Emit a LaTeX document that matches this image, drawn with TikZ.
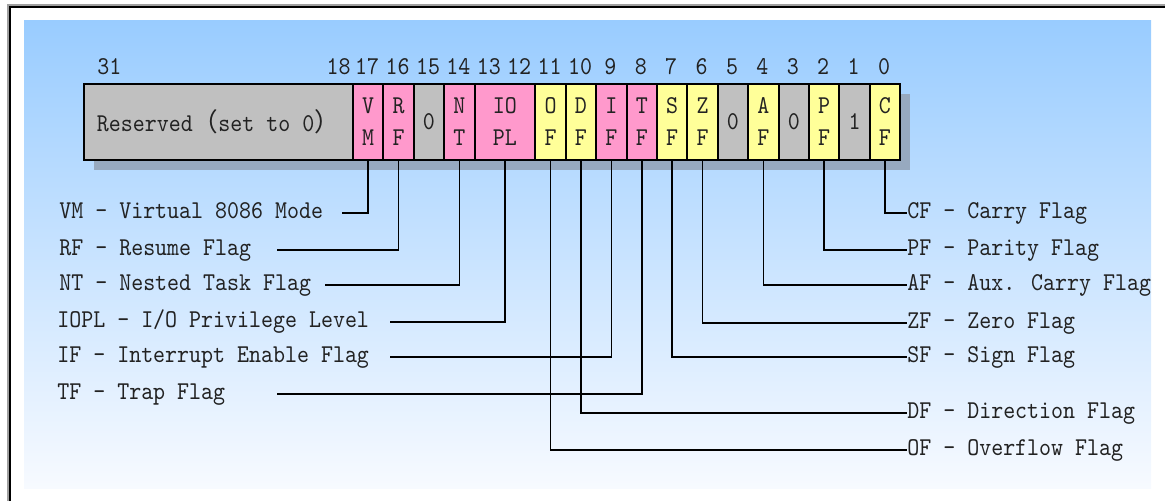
\documentclass[tikz,border=0pt]{standalone}
\usepackage{fontspec}
\newfontfamily\regfont[Extension=.otf, FakeStretch=0.89]{lmmono10-regular}
\newfontfamily\cjk{Noto Sans CJK SC}
\usepackage{xcolor}
\definecolor{flagpink}{HTML}{FF99CC}
\definecolor{flagyellow}{HTML}{FFFF99}
\definecolor{fixgray}{HTML}{C0C0C0}
\definecolor{shadowblue}{HTML}{97A9BF}
\definecolor{skytop}{HTML}{99CCFF}
\definecolor{skybottom}{HTML}{F7FAFF}
\definecolor{framegray}{HTML}{A0A0A0}
\definecolor{ink}{HTML}{222222}
\usepackage{tikz}
\usetikzlibrary{positioning, calc}

\begin{document}
\begin{tikzpicture}[
  x=0.02cm, y=-0.02cm,
  font=\regfont\fontsize{14.6}{18.2}\selectfont,
  bitbox/.style={
    draw=black, line width=1.1pt, anchor=north west, inner sep=0pt,
    minimum width=0.608cm, minimum height=1.52cm, align=center, text=ink
  },
  flag/.style={bitbox, fill=flagpink},
  stat/.style={bitbox, fill=flagyellow},
  fixd/.style={bitbox, fill=fixgray},
  bitnum/.style={inner sep=0pt, text height=0.61em, text depth=0pt, text=ink},
  lbl/.style={inner sep=0pt, anchor=west, text height=0.61em, text depth=0pt, text=ink},
  lead/.style={draw=black, line width=0.85pt}
]
  \useasboundingbox (0,0) rectangle (1165,501);
  \draw[framegray, line width=0.8pt] (8,501) -- (8,5) -- (1165,5);
  \draw[black, line width=1.2pt] (10,501) -- (10,7) -- (1165,7);
  \shade[top color=skytop, bottom color=skybottom] (24,20) rectangle (1151,488);

  \fill[shadowblue] (94,94) rectangle (910,170);

  \node[fixd, minimum width=5.38cm] (res) at (83,83)
    {Reserved{\cjk （}set to 0{\cjk ）}};
  \foreach \b/\txt/\sty in {17/{V\\M}/flag, 16/{R\\F}/flag, 15/0/fixd,
      14/{N\\T}/flag, 11/{O\\F}/stat, 10/{D\\F}/stat, 9/{I\\F}/flag,
      8/{T\\F}/flag, 7/{S\\F}/stat, 6/{Z\\F}/stat, 5/0/fixd, 4/{A\\F}/stat,
      3/0/fixd, 2/{P\\F}/stat, 1/1/fixd, 0/{C\\F}/stat}
    \node[\sty] (b\b) at ({352+(17-\b)*30.4},83) {\txt};
  \node[flag, minimum width=1.216cm] (iopl) at ({352+4*30.4},83) {IO\\PL};

  \node[bitnum, anchor=west] (n31) at (97,69) {31};
  \node[bitnum, anchor=east] (n18) at (351,69) {18};
  \foreach \b in {17,...,0}
    \node[bitnum] (n\b) at ({352+(17-\b)*30.4+15.2},69) {\b};

  \node[lbl] (vm)   at (59,213) {VM - Virtual 8086 Mode};
  \node[lbl] (rf)   at (59,250) {RF - Resume Flag};
  \node[lbl] (nt)   at (59,285) {NT - Nested Task Flag};
  \node[lbl] (iopllbl) at (57,322) {IOPL - I/O Privilege Level};
  \node[lbl] (if)   at (57,357) {IF - Interrupt Enable Flag};
  \node[lbl] (tf)   at (57,394) {TF - Trap Flag};

  \coordinate (vmL) at (342,213);
  \coordinate (rfL) at (277,250);
  \coordinate (ntL) at (325,285);
  \coordinate (ioplL) at (390,322);
  \coordinate (ifL) at (390,357);
  \coordinate (tfL) at (277,394);

  \node[lbl] (cf) at (907,213) {CF - Carry Flag};
  \node[lbl] (pf) at (907,250) {PF - Parity Flag};
  \node[lbl] (af) at (907,285) {AF - Aux. Carry Flag};
  \node[lbl] (zf) at (907,323) {ZF - Zero Flag};
  \node[lbl] (sf) at (907,357) {SF - Sign Flag};
  \node[lbl] (df) at (907,413) {DF - Direction Flag};
  \node[lbl] (of) at (907,450) {OF - Overflow Flag};

  \draw[lead] (b17.south) |- (vmL);
  \draw[lead] (b16.south) |- (rfL);
  \draw[lead] (b14.south) |- (ntL);
  \draw[lead] (iopl.south) |- (ioplL);
  \draw[lead] (b9.south) |- (ifL);
  \draw[lead] (b8.south) |- (tfL);

  \draw[lead] (b0.south) |- (cf.west);
  \draw[lead] (b2.south) |- (pf.west);
  \draw[lead] (b4.south) |- (af.west);
  \draw[lead] (b6.south) |- (zf.west);
  \draw[lead] (b7.south) |- (sf.west);
  \draw[lead] (b10.south) |- (df.west);
  \draw[lead] (b11.south) |- (of.west);
\end{tikzpicture}
\end{document}
